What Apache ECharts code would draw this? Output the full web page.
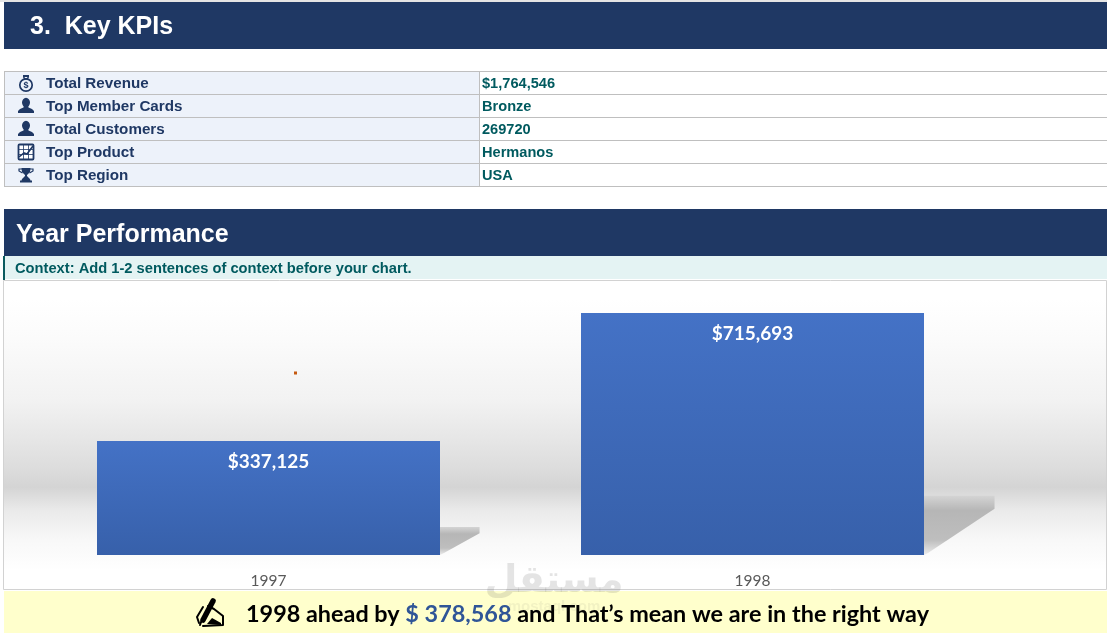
<!DOCTYPE html>
<html>
<head>
<meta charset="utf-8">
<style>html,body{margin:0;padding:0;background:#fff;overflow:hidden}#c{width:1110px;height:633px}</style>
<script src="https://cdn.jsdelivr.net/npm/echarts@6/dist/echarts.min.js"></script>
</head>
<body>
<div id="c"></div>
<script>
const years = ['1997', '1998'];
const revenue = [337125, 715693];
const barLabels = ['$337,125', '$715,693'];
const kpiNames = ['Total Revenue', 'Top Member Cards', 'Total Customers', 'Top Product', 'Top Region'];
const kpiValues = ['$1,764,546', 'Bronze', '269720', 'Hermanos', 'USA'];
const kpiIcons = ['bag', 'person', 'person', 'chart', 'trophy'];
const pageTitle = '3.  Key KPIs';
const sectionTitle = 'Year Performance';
const contextText = 'Context: Add 1-2 sentences of context before your chart.';
const noteStart = '1998 ahead by ';
const noteAmount = '$ 378,568';
const noteEnd = " and That\u2019s mean we are in the right way";

const NAVY = '#1F3864', TEAL = '#005A5F', LINE = '#BFBFBF';
const ARIAL = '"Liberation Sans", Arial, sans-serif';
const CAL = 'Lato, Carlito, Calibri, sans-serif';
const RIGHT = 1107;
const g = [];
const rect = (x, y, w, h, fill, z) => g.push({type: 'rect', z: z === undefined ? -1 : z, silent: true, shape: {x, y, width: w, height: h}, style: {fill}});
const text = (x, y, t, font, fill, extra) => g.push({type: 'text', z: 5, silent: true, x, y, style: Object.assign({text: t, font, fill, verticalAlign: 'middle'}, extra || {})});

function drawIcon(kind, cx, cy) {
  const add = (o) => g.push(Object.assign({z: 4, silent: true}, o));
  const poly = (pts) => add({type: 'polygon', shape: {points: pts.map((p) => [cx + p[0], cy + p[1]])}, style: {fill: NAVY}});
  if (kind === 'person') {
    add({type: 'ellipse', shape: {cx, cy: cy - 3.5, rx: 4, ry: 4.8}, style: {fill: NAVY}});
    poly([[-2, -0.5], [2, -0.5], [2.5, 1.5], [6, 3], [8, 5], [8, 7], [-8, 7], [-8, 5], [-6, 3], [-2.5, 1.5]]);
  } else if (kind === 'bag') {
    add({type: 'circle', shape: {cx, cy: cy + 2, r: 6.2}, style: {fill: 'none', stroke: NAVY, lineWidth: 1.7}});
    add({type: 'rect', shape: {x: cx - 3, y: cy - 8, width: 6, height: 2}, style: {fill: NAVY}});
    add({type: 'polyline', shape: {points: [[cx - 2.5, cy - 6], [cx - 1, cy - 4], [cx + 1, cy - 4], [cx + 2.5, cy - 6]]}, style: {fill: 'none', stroke: NAVY, lineWidth: 1.3}});
    add({type: 'text', x: cx, y: cy + 2.5, style: {text: '$', font: 'bold 9px ' + ARIAL, fill: NAVY, align: 'center', verticalAlign: 'middle'}});
  } else if (kind === 'chart') {
    add({type: 'rect', shape: {x: cx - 7.5, y: cy - 7.5, width: 15, height: 15, r: 1}, style: {fill: '#fff', stroke: NAVY, lineWidth: 1.8}});
    [-2.5, 2.5].forEach((d) => {
      add({type: 'line', shape: {x1: cx + d, y1: cy - 7, x2: cx + d, y2: cy + 7}, style: {stroke: NAVY, lineWidth: 0.8}});
      add({type: 'line', shape: {x1: cx - 7, y1: cy + d, x2: cx + 7, y2: cy + d}, style: {stroke: NAVY, lineWidth: 0.8}});
    });
    add({type: 'polyline', shape: {points: [[cx - 7, cy + 5], [cx - 2, cy + 1], [cx + 1, cy + 2], [cx + 7, cy - 6]]}, style: {fill: 'none', stroke: NAVY, lineWidth: 1.6}});
  } else if (kind === 'trophy') {
    poly([[-4.5, -7], [4.5, -7], [4, -3], [1, 0], [1, 1], [4, 4], [4.5, 5.5], [6, 5.5], [6, 7.5], [-6, 7.5], [-6, 5.5], [-4.5, 5.5], [-4, 4], [-1, 1], [-1, 0], [-4, -3]]);
    add({type: 'polyline', shape: {points: [[cx - 4, cy - 6], [cx - 7, cy - 6], [cx - 7, cy - 4], [cx - 3.5, cy - 2]]}, style: {fill: 'none', stroke: NAVY, lineWidth: 1.2}});
    add({type: 'polyline', shape: {points: [[cx + 4, cy - 6], [cx + 7, cy - 6], [cx + 7, cy - 4], [cx + 3.5, cy - 2]]}, style: {fill: 'none', stroke: NAVY, lineWidth: 1.2}});
  }
}

function drawWritingHand() {
  const add = (o) => g.push(Object.assign({z: 5, silent: true}, o));
  const ink = (pts, w) => add({type: 'polyline', shape: {points: pts}, style: {fill: 'none', stroke: '#000', lineWidth: w, lineJoin: 'round', lineCap: 'round'}});
  ink([[213, 601], [203, 620]], 5.5);
  ink([[201, 622], [200, 625]], 2);
  ink([[208, 606], [214, 609], [223, 616], [223, 625], [203, 626]], 2);
  ink([[203, 607], [197, 617], [199, 623]], 2);
  add({type: 'polygon', shape: {points: [[207, 624], [212, 618], [221, 623], [221, 625]]}, style: {fill: '#000'}});
}

// page bands
rect(0, 0, RIGHT, 2, '#E4E4E4');
rect(4, 2, RIGHT - 4, 47, NAVY);
text(30, 27, pageTitle, 'bold 25px ' + ARIAL, '#fff', {whiteSpace: 'pre'});

// KPI table
kpiNames.forEach((name, i) => {
  const y = 71 + i * 23;
  rect(4, y, 475, 23, '#EDF2FA');
  text(46, y + 12.5, name, 'bold 15.2px ' + ARIAL, NAVY);
  text(482, y + 13, kpiValues[i], 'bold 14.6px ' + ARIAL, TEAL);
  drawIcon(kpiIcons[i], 26, y + 12);
});
for (let i = 0; i <= kpiNames.length; i++) rect(4, 71 + i * 23, RIGHT - 4, 1, LINE, 1);
rect(4, 71, 1, 116, LINE, 1);
rect(479, 71, 1, 116, LINE, 1);

// section header
rect(4, 209, RIGHT - 4, 47, NAVY);
text(16, 235, sectionTitle, 'bold 25px ' + ARIAL, '#fff');
rect(3, 256, RIGHT - 3, 23, '#E4F3F3');
rect(3, 256, 2, 24, '#0B5B5F', 1);
text(15, 268.5, contextText, 'bold 14.7px ' + ARIAL, TEAL);

// chart panel
g.push({type: 'rect', z: -2, silent: true, shape: {x: 3.5, y: 280.5, width: 1103, height: 309},
  style: {stroke: '#D2D2D2', lineWidth: 1, fill: {type: 'linear', x: 0, y: 0, x2: 0, y2: 1, colorStops: [
    {offset: 0, color: '#FFFFFF'}, {offset: 0.06, color: '#FFFFFF'}, {offset: 0.19, color: '#FBFBFB'},
    {offset: 0.387, color: '#F2F2F2'}, {offset: 0.516, color: '#E6E6E6'}, {offset: 0.613, color: '#DCDCDC'},
    {offset: 0.668, color: '#D4D4D4'}, {offset: 0.743, color: '#EAEAEA'}, {offset: 0.84, color: '#F8F8F8'},
    {offset: 0.937, color: '#FFFFFF'}, {offset: 1, color: '#FFFFFF'}]}}});
rect(294, 371.5, 3, 3, '#C55A11', 1);

// bottom note
rect(4, 591, RIGHT - 4, 42, '#FFFFCC');
g.push({type: 'text', z: 5, silent: true, x: 587.5, y: 614, style: {
  text: '{a|' + noteStart + '}{b|' + noteAmount + '}{a|' + noteEnd + '}',
  align: 'center', verticalAlign: 'middle',
  rich: {a: {font: 'bold 23.4px ' + CAL, fill: '#000'}, b: {font: 'bold 23.4px ' + CAL, fill: '#2F5597'}}}});
drawWritingHand();

// watermark
text(554, 582, '\u0645\u0633\u062A\u0642\u0644', 'bold 38px "DejaVu Sans"', 'rgba(90,90,90,0.16)', {align: 'center'});
text(554, 607, 'mostaql.com', 'bold 15px ' + ARIAL, 'rgba(90,90,90,0.08)', {align: 'center'});

const chart = echarts.init(document.getElementById('c'), null, {width: 1110, height: 633});
chart.setOption({
  animation: false,
  backgroundColor: '#fff',
  graphic: {elements: g},
  grid: {left: 26.5, width: 968, top: 284.5, height: 270.5, outerBoundsMode: 'none'},
  xAxis: {type: 'category', data: years, axisLine: {show: false}, axisTick: {show: false},
    axisLabel: {color: '#595959', fontFamily: CAL, fontSize: 15.5, margin: 18}},
  yAxis: {type: 'value', min: 0, max: 800000, show: false, splitLine: {show: false}},
  series: [
    {type: 'custom', z: 1, silent: true, encode: {x: 0, y: 1}, data: years.map((y, i) => [i, revenue[i]]),
      renderItem(params, api) {
        const top = api.coord([api.value(0), api.value(1)]);
        const base = api.coord([api.value(0), 0]);
        const h = base[1] - top[1];
        const x0 = base[0] + api.size([1, 0])[0] * 0.3543;
        const sh = h * 0.245, w = 12 + h * 0.242;
        const y0 = base[1] - sh;
        return {type: 'polygon', shape: {points: [[x0, y0], [x0 + w, y0], [x0 + w, y0 + sh * 0.22], [x0 + 4, base[1] - 2], [x0, base[1]]]},
          style: {fill: {type: 'linear', x: 0, y: 0, x2: 0, y2: 1, colorStops: [
            {offset: 0, color: '#D4D4D4'}, {offset: 0.25, color: '#B6B6B6'}, {offset: 0.75, color: '#BEBEBE'}, {offset: 1, color: '#ECECEC'}]}}};
      }},
    {type: 'bar', z: 2, data: revenue, barWidth: 343,
      itemStyle: {color: {type: 'linear', x: 0, y: 0, x2: 0, y2: 1, colorStops: [{offset: 0, color: '#4472C6'}, {offset: 1, color: '#3760AA'}]}},
      label: {show: true, position: 'insideTop', distance: 11, color: '#fff', fontFamily: CAL, fontWeight: 'bold', fontSize: 19,
        formatter: (p) => barLabels[p.dataIndex]}}
  ]
});
</script>
</body>
</html>
